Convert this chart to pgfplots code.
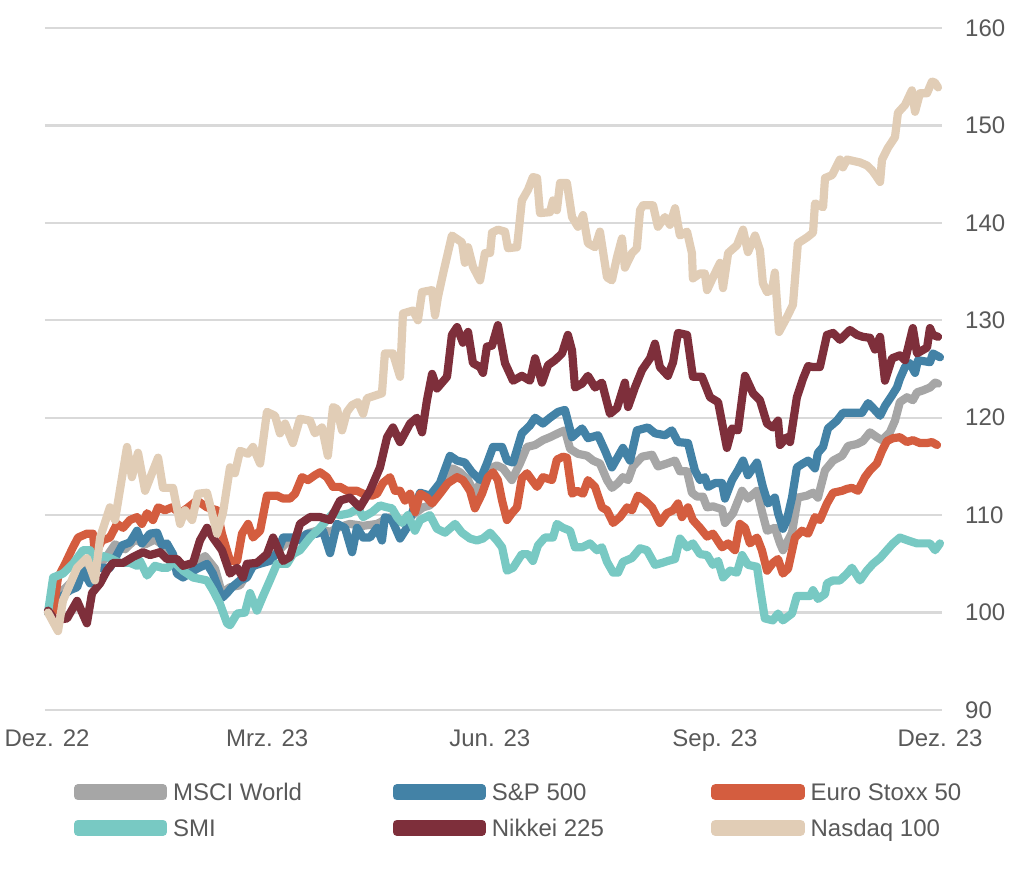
\documentclass[border=0pt]{standalone}
\usepackage{fontspec}
\setmainfont{Liberation Sans}
\usepackage{pgfplots}
\pgfplotsset{compat=1.18}
\definecolor{msci}{HTML}{A6A6A6}
\definecolor{spx}{HTML}{4382A6}
\definecolor{sx5e}{HTML}{D45D3F}
\definecolor{smi}{HTML}{78C9C3}
\definecolor{nky}{HTML}{7E2F3B}
\definecolor{ndx}{HTML}{E1CDB6}
\definecolor{gridc}{HTML}{D9D9D9}
\definecolor{txt}{HTML}{595959}
\newcommand{\leg}[1]{\makebox[200pt][l]{\rule[-5pt]{0pt}{23pt}#1}}
\begin{document}
\begin{tikzpicture}
\path[use as bounding box] (0,0) rectangle (1024pt,878pt);
\begin{axis}[
  at={(45pt,168pt)}, anchor=south west,
  scale only axis, width=897pt, height=682pt,
  xmin=-0.82, xmax=365.82, ymin=90, ymax=160,
  axis line style={draw=none},
  ytick={90,100,...,160},
  xtick={0,90,181,273,365},
  xticklabels={Dez. 22, Mrz. 23, Jun. 23, Sep. 23, Dez. 23},
  ymajorgrids,
  major grid style={color=gridc, line width=2.2pt},
  major tick length=0pt,
  yticklabel pos=right,
  /pgf/number format/assume math mode=true,
  tick label style={font=\fontsize{24}{28}\selectfont, text=txt, inner sep=0pt},
  yticklabel style={anchor=west, xshift=23pt},
  xticklabel style={anchor=north, yshift=-20pt},
  clip=false,
  every axis plot/.append style={line width=8.2pt, line join=round, line cap=round},
  legend image code/.code={\path (0pt,-4pt) rectangle (85pt,4pt);
    \draw[#1, line width=8.5pt, line cap=round] (4pt,0pt) -- (81pt,0pt);},
  legend style={at={(axis description cs:0.0323,-0.1064)}, anchor=north west,
    draw=none, fill=none, inner sep=0pt, outer sep=0pt,
    legend columns=3, row sep=16pt,
    /tikz/every odd column/.append style={column sep=6pt},
    /tikz/every even column/.append style={column sep=19.5pt},
    nodes={inner sep=0pt, font=\fontsize{24}{28}\selectfont, text=txt},
    cells={anchor=west}},
]

% MSCI World
\addplot[color=msci] coordinates {
(0.4,100) (3.3,101.5) (7.4,102.5) (11.4,103.5) (15.5,104.5) (19.6,104.8)
(23.7,105.5) (27.8,107) (31.9,106.5) (36,107.5) (40.1,107) (44.1,107.5)
(48.2,106.8) (52.3,105.5) (56.4,104.5) (60.5,105) (64.6,105.8) (68.7,104.5)
(71.5,102) (74.8,102.6) (78.9,102.8) (83,104.5) (87.1,105.2) (91.1,105.5)
(95.2,106.5) (99.3,107.5) (103.4,107.7) (107.5,108.2) (111.6,108.5) (115.7,108.3)
(119.8,108.8) (123.8,109.1) (129.2,108.9) (134.9,109.1) (140.2,109.8) (144.3,109.3)
(148.4,109.8) (153.7,110.8) (156.5,111) (160.6,112.5) (165.9,114.8) (168.8,114.4)
(172.1,113.6) (174.9,112.2) (177.8,113.7) (181.1,114.8) (183.9,115.1) (186.4,114.8)
(190,113.6) (193.3,115.3) (196.2,117) (199.5,117.2) (202.7,117.7) (205.6,118)
(209.7,118.5) (211.7,118.7) (213.8,116.8) (217,116.3) (220.7,116.1) (223.2,115.6)
(226,115.3) (228.9,113.6) (230.9,112.8) (233.4,113.3) (235.4,113.9) (237.5,113.6)
(239.5,115) (243.2,116) (247.3,116.2) (249.7,115) (253.4,115.3) (256.7,115.6)
(258.7,114.5) (261.6,114.5) (263.6,112.3) (265.7,111.9) (268.1,111.9) (269.8,110.8)
(272.2,110.9) (275.9,110.6) (277.1,109.2) (280.4,110.2) (284.1,112.5) (286.5,111.7)
(290.2,112.5) (292.2,110.4) (294.3,108.4) (297.5,108.7) (299.6,107.1) (300.8,106.4)
(304.5,108.2) (306.9,111.8) (310.6,112) (313.1,112.3) (315.1,111.8) (318,114.6)
(321.3,115.6) (325,116.1) (327.4,117.1) (331.1,117.3) (333.5,117.6) (336.4,118.5)
(339.2,118) (341.3,117.7) (344.5,118.5) (346.6,119.7) (348.6,121.6) (351.5,122.1)
(353.9,121.8) (355.6,122.6) (358,122.8) (360.9,123.1) (363,123.6) (364.2,123.5)
};
\addlegendentry{\leg{MSCI World}}

% S&P 500
\addplot[color=spx] coordinates {
(0.4,100) (2.5,100.2) (5.3,101.5) (9.4,102.3) (12.3,102.6) (14.7,104.3)
(17.6,103) (20.8,104.6) (25.7,104.6) (30.7,106.9) (33.9,107.2) (36.8,108.4)
(38.8,107.1) (42.1,108.1) (45,108.2) (47,106.9) (49,107.1) (51.5,106)
(53.1,104) (55.6,103.6) (61.3,104.5) (65.4,105) (67.8,104) (71.5,101.5)
(73.6,102) (75.6,102.6) (78.9,103.3) (81.7,103.6) (84.2,104.8) (88.3,105.1)
(91.1,105.3) (94,106.1) (96.5,107.7) (100.5,107.7) (103.4,107.4) (106.3,108.1)
(110.4,108.1) (112.8,108.4) (115.7,106.1) (118.5,109.1) (121.8,108.7) (124.7,106.2)
(126.7,108.7) (129.2,107.7) (132,107.7) (134.9,108.7) (136.9,107.4) (138.1,109.8)
(141,109.5) (144.3,107.6) (147.1,108.7) (149.6,110.5) (152.5,112.3) (156.5,112)
(160.6,113.3) (164.7,116.1) (167.6,115.6) (170.8,115.4) (173.7,114.4) (177,113.6)
(179.8,115.3) (182.3,117) (186,117) (188,115.6) (190.5,115.4) (194.1,118.4)
(197.4,119.2) (199.5,120) (202.7,119.4) (205.6,120) (208.9,120.6) (211.7,120.8)
(214.6,118) (218.7,118.9) (221.1,117.9) (225.2,118.2) (228.1,116.6) (230.9,114.9)
(235.4,116.9) (238.3,115.6) (241.1,118.7) (245.6,119) (248.5,118.4) (252.6,118.2)
(255.4,118.7) (257.9,117.5) (262,117.4) (264.8,114.6) (266.9,113.6) (268.9,113.9)
(270.2,112.9) (273.1,113.3) (275.9,113.3) (277.1,111.7) (280,113.6) (282.4,114.6)
(284.5,115.6) (286.5,114.1) (290.2,115.4) (292.6,112.9) (294.7,111.2) (297.5,111.8)
(298.8,110.2) (300.8,108.6) (302.4,109.5) (304.5,111.8) (306.5,114.9) (309,115.3)
(311.1,115.6) (313.9,114.8) (315.1,116.4) (317.2,117) (319.2,118.9) (322.9,119.7)
(325.3,120.5) (329.4,120.5) (333.1,120.5) (335.6,121.5) (337.6,121) (340.5,120.2)
(342.5,121.2) (345.4,122.3) (347.4,123.1) (348.6,124) (350.7,125.2) (352.7,125.6)
(354.8,124.6) (356,125.9) (360.9,125.7) (362.1,126.6) (365,126.2)
};
\addlegendentry{\leg{S\&P 500}}

% Euro Stoxx 50
\addplot[color=sx5e] coordinates {
(0.4,100) (2.5,100) (4.5,103.6) (7.4,105) (10.6,106.7) (12.7,107.7)
(16.3,108.1) (18.8,108.1) (19.6,106) (22.5,107.4) (25.7,107.7) (28.6,109.1)
(31.1,108.7) (33.9,109.5) (36.8,109.8) (38.8,109.1) (40.9,110.2) (43.3,109.5)
(45.4,110.8) (48.2,110.5) (51.1,110.8) (54.4,110.2) (57.2,110.7) (61.3,111.5)
(65.4,110.8) (69.5,110.5) (71.5,108.1) (74.8,105.3) (77.7,105.3) (79.7,108.1)
(82.2,109.1) (84.2,107.7) (87.1,108.4) (89.9,112) (94,112) (96.5,111.7)
(99.3,111.7) (101.4,112.2) (104.2,113.9) (106.7,113.6) (109.5,114.1) (111.6,114.4)
(114.4,113.9) (116.9,112.9) (119.8,112.9) (122.6,112.5) (126.7,112.5) (129.2,112.2)
(132.8,112) (134.9,112.2) (137.3,113.3) (140.2,113.9) (142.2,112.5) (144.3,112.5)
(146.3,111.5) (148.4,112.2) (150.4,110.3) (152.5,112.2) (155.3,111.8) (157.4,111.2)
(160.6,112.2) (163.9,113.3) (167.6,113.9) (170,113.6) (172.9,112.5) (174.9,110.7)
(177.8,112.2) (180.2,113.9) (182.3,114.4) (184.3,113.6) (186,111.5) (188,109.5)
(190,110.2) (192.1,110.8) (194.1,113.8) (196.2,114.3) (198.2,113.6) (200.3,112.9)
(202.7,113.9) (206.4,113.6) (208.4,115.7) (210.9,116) (212.5,115.9) (214.6,112.2)
(216.6,112.5) (219.1,112.2) (221.1,113.6) (224,112.9) (226.8,110.8) (228.9,110.5)
(231.4,109.2) (234.2,109.8) (237.1,110.8) (239.1,110.5) (241.5,112) (244.4,111.5)
(247.3,110.8) (250.5,109.2) (253.4,110.2) (255.9,110.5) (257.9,111.2) (259.5,109.8)
(262,110.8) (264,109.5) (266.9,108.7) (269.8,107.8) (272.2,108.1) (275.9,106.7)
(278.4,107.1) (281.2,106.4) (283.2,109.1) (285.3,108.7) (287.3,107.1) (290.2,107.7)
(292.2,106.4) (294.3,104.3) (296.7,105.1) (298.8,105.5) (300.8,104) (302.9,104.5)
(305.7,107.7) (308.6,108.4) (311.1,108.1) (313.9,109.8) (315.9,109.5) (318.8,111.2)
(321.3,112.3) (325,112.5) (327,112.7) (329,112.8) (331.5,112.5) (334.3,113.9)
(336.4,114.6) (339.2,115.3) (341.3,116.6) (343.3,117.6) (345.8,117.9) (348.6,118)
(351.5,117.5) (353.9,117.7) (356.8,117.4) (359.7,117.4) (361.7,117.5) (363.8,117.2)
};
\addlegendentry{\leg{Euro Stoxx 50}}

% SMI
\addplot[color=smi] coordinates {
(0.4,100) (2.5,103.6) (6.5,104) (10.6,105) (14.7,106.4) (17.6,106.4)
(19.6,105.3) (22.9,105.8) (25.7,105.6) (29.8,105.1) (33.9,105.1) (36.8,104.8)
(38,105.3) (40.9,103.8) (44.1,104.8) (47,104.6) (49.5,104.6) (51.5,105.3)
(55.6,104.3) (59.7,103.6) (65.4,103.3) (67.8,102.3) (70.7,100.9) (73.6,98.9)
(74.8,98.7) (77.7,99.9) (80.9,100) (83,102) (85.8,100.2) (88.3,101.7)
(91.1,103.3) (94,105) (98.1,105) (100.5,106) (103.4,106.4) (107.5,107.7)
(111.6,108.7) (114.4,109.5) (116.9,110.2) (119.8,110) (123.8,110.2) (127.1,110.7)
(129.2,109.8) (132.8,110.3) (136.1,111) (139,110.8) (141,110.7) (143.1,109.8)
(145.1,109.2) (147.5,110) (150.4,108.4) (152.5,109.5) (156.5,110) (159.4,108.6)
(162.7,108.2) (166.8,109.1) (169.6,108.2) (172.9,107.6) (175.7,107.4) (178.2,107.6)
(181.1,108.2) (183.9,107.4) (186,106.7) (188,104.3) (190.5,104.6) (194.1,106)
(196.6,106) (198.6,105.3) (200.7,106.9) (203.5,107.7) (206.8,107.7) (208.4,109.1)
(210.9,108.7) (213.8,108.4) (215.8,106.7) (218.7,106.7) (221.9,107.1) (224.8,106.4)
(226.8,106.7) (228.9,105.2) (231.4,104.1) (233.4,104.1) (235.4,105.2) (239.1,105.6)
(242.4,106.6) (245.2,106.4) (248.5,104.9) (251.4,105.1) (253.8,105.3) (256.7,105.5)
(258.7,107.6) (261.6,106.7) (264,107.1) (266.9,106) (269.8,105.9) (272.2,104.9)
(274.3,105.3) (276.3,103.6) (279.2,104.3) (282,104.1) (284.1,105.9) (286.5,104.9)
(290.2,104.7) (291.4,102.6) (293.4,99.4) (296.7,99.2) (298.8,99.9) (300.8,99.2)
(304.5,99.9) (306.5,101.7) (309,101.7) (311.9,101.7) (313.1,102.3) (315.1,101.4)
(318,101.9) (318.8,103) (321.3,103.3) (324.1,103.3) (327,104) (329,104.6)
(332.3,103.3) (335.1,104.3) (337.6,105) (340.5,105.6) (343.3,106.4) (345.8,107.1)
(348.6,107.7) (351.9,107.4) (355.6,107.1) (358,107.1) (360.9,107.1) (363,106.4)
(365,107.1)
};
\addlegendentry{\leg{SMI}}

% Nikkei 225
\addplot[color=nky] coordinates {
(0.4,100.2) (3.3,99.2) (8.2,99.4) (12.3,101.2) (16.3,98.9) (18.4,102)
(21.7,103) (24.5,104.3) (27,105.1) (31.1,105.1) (35.1,105.7) (39.2,106.2)
(42.1,105.9) (46.2,106.2) (49,105.5) (53.1,105.5) (55.6,104.8) (59.7,105.1)
(62.5,107.4) (65.4,108.7) (67.8,107.7) (71.5,106.4) (74.8,104) (77.7,104.6)
(80.1,103.6) (81.7,105) (85.8,105.1) (89.9,106) (92.4,107.7) (96.5,105.3)
(99.3,105.7) (103.4,109.1) (107.5,109.8) (111.6,109.8) (115.7,109.5) (119.8,111.5)
(123.8,111.8) (127.9,110.8) (132,112.5) (136.1,114.9) (139,118) (141.4,119)
(144.3,117.5) (148.4,119.4) (151.2,120) (153.3,118.5) (155.3,121.8) (157.4,124.5)
(159.4,123) (163.5,124.2) (165.5,128.5) (167.6,129.3) (170,127.7) (172.1,128.8)
(174.1,125.6) (177,125.2) (178.2,124.6) (179.8,127.3) (181.9,127.4) (184.3,129.5)
(187.2,125.6) (190.5,123.8) (194.1,124.3) (197.4,123.8) (199.5,126.1) (202.3,123.6)
(204.8,125.4) (207.6,125.9) (210.5,126.6) (212.9,128.5) (214.6,126.9) (215.8,123.1)
(218.7,123.5) (221.1,124.3) (224,123.1) (226.8,123.6) (230.1,120.4) (233,121)
(236.2,123.6) (237.5,121.1) (240.3,123.1) (243.2,124.9) (246.5,126.1) (248.5,127.6)
(250.5,125.2) (253.8,124.3) (255.9,125.7) (257.9,128.7) (261.6,128.5) (264,124.2)
(267.7,124.2) (271,122.1) (274.3,121.6) (277.9,116.9) (280,118.9) (282.4,118.7)
(285.3,124.3) (288.6,122.5) (291.4,121.8) (294.3,119.4) (296.7,119) (298.8,119.7)
(299.6,117.2) (302.4,118) (303.7,117.5) (306.5,122.1) (309,124) (311.1,125.3)
(313.1,125.2) (315.9,125.2) (318.8,128.5) (321.3,128.7) (324.1,128) (328.2,129)
(331.1,128.5) (333.5,128.3) (336.4,128.2) (338.4,127) (340.5,128.3) (342.5,123.8)
(345.4,126.1) (348.6,126.4) (350.7,125.9) (353.9,129.2) (355.6,126.6) (359.7,127.2)
(360.9,129.2) (362.1,128.5) (364.2,128.3)
};
\addlegendentry{\leg{Nikkei 225}}

% Nasdaq 100
\addplot[color=ndx] coordinates {
(0.4,100) (4.5,98.1) (6.5,101.2) (12.3,104.6) (16.3,105.6) (19.6,103.3)
(21.7,107.7) (25.7,110.8) (27.8,109.5) (32.7,117) (34.7,113.9) (37.2,116.4)
(40.1,112.5) (45.4,115.9) (47.4,112.8) (51.5,112.8) (54.4,109.1) (56.4,110.5)
(59.3,109.5) (61.7,112.2) (65.4,112.3) (69.5,108.1) (71.9,110.2) (74.8,114.9)
(76.8,114.3) (78.9,116.6) (82.2,116.3) (84.2,117) (87.1,115.3) (89.9,120.6)
(93.2,120.2) (95.2,118.4) (97.3,119.4) (100.5,117.4) (103.4,119.9) (107.5,119.7)
(109.5,118.4) (112.4,119) (114.8,116.1) (116.9,121.1) (118.5,120.9) (120.6,118.7)
(122.6,120.6) (124.7,121.3) (127.1,121.6) (129.2,120.4) (130.8,122) (136.9,122.5)
(138.1,126.6) (141.4,126.6) (144.3,124.2) (145.5,130.7) (149.6,131) (151.6,130)
(153.3,132.9) (157.4,133.1) (158.6,130.5) (159.8,132.4) (161.9,134.8) (165.5,138.7)
(169.6,138) (170.8,135.9) (172.1,137.5) (174.1,135.5) (177,134.1) (179,136.9)
(181.1,136.9) (181.9,139) (184.3,139.3) (187.2,139.1) (188.4,137.4) (192.1,137.5)
(194.1,142.3) (196.6,143.4) (198.6,144.7) (200.3,144.6) (201.5,141) (205.6,141.1)
(206.8,142.3) (208.4,141.3) (209.7,144.1) (212.5,144.1) (214.6,140.6) (217,139.6)
(219.1,140.8) (221.1,137.9) (224,137.5) (226,139.1) (228.9,134.4) (230.9,134.1)
(233,136.5) (235,138.4) (236.2,135.4) (239.1,136.9) (241.1,137.4) (242.4,141.3)
(243.6,141.8) (247.7,141.8) (249.7,139.6) (252.6,140.6) (254.6,139.8) (256.7,141.5)
(258.7,138.7) (261.6,139.1) (263.6,136.9) (264,134.3) (266.9,134.8) (268.9,134.8)
(269.8,133.1) (272.2,134.4) (275.1,135.9) (276.3,133.3) (278.4,136.9) (282,137.7)
(284.5,139.3) (286.5,137) (289.4,138.7) (291.4,137.2) (292.6,133.8) (294.3,132.9)
(296.3,133.1) (297.5,134.9) (299.2,128.8) (302.4,130.3) (304.9,131.6) (306.9,137.9)
(310.6,138.5) (313.1,139) (313.9,142) (317.2,141.6) (318,144.6) (320.9,144.9)
(324.1,146.5) (325.3,145.7) (327,146.5) (332.3,146.2) (335.1,145.9) (337.2,145.4)
(339.2,144.7) (340.5,144.2) (341.3,146.5) (343.7,147.7) (346.6,148.8) (347.8,151.3)
(350.7,152.1) (353.5,153.6) (354.8,151.4) (356.8,153.3) (359.7,153.3) (361.7,154.5)
(362.9,154.4) (364.2,153.9)
};
\addlegendentry{\leg{Nasdaq 100}}

\end{axis}
\end{tikzpicture}
\end{document}
